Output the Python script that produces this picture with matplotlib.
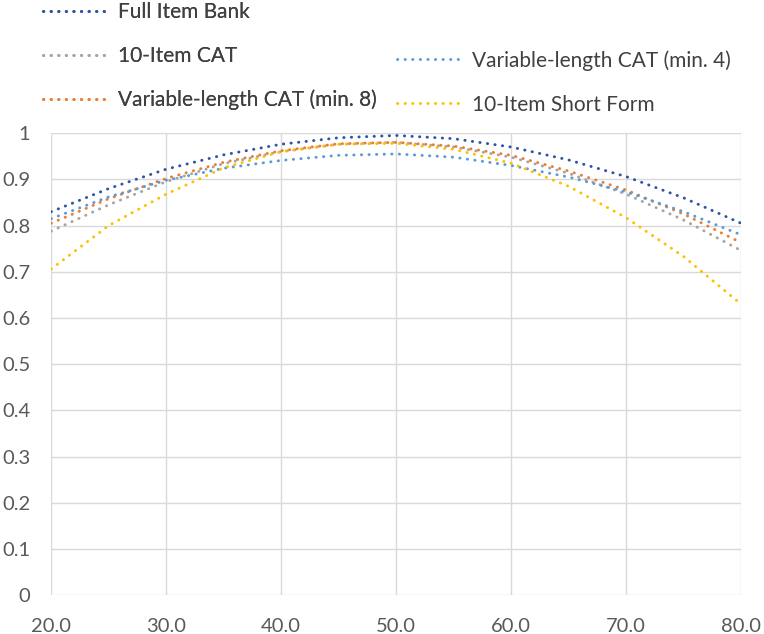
import matplotlib
matplotlib.use("Agg")
import matplotlib.pyplot as plt
from matplotlib.lines import Line2D

# x positions (theta scale) and reliability curves
x_vals = [20, 25, 30, 35, 40, 45, 50, 55, 60, 65, 70, 75, 80]

full_bank = [0.830, 0.880, 0.922, 0.953, 0.976, 0.990, 0.995, 0.988, 0.970, 0.942, 0.906, 0.860, 0.805]
cat_10 = [0.788, 0.845, 0.895, 0.934, 0.960, 0.976, 0.980, 0.970, 0.948, 0.913, 0.868, 0.812, 0.746]
var_min8 = [0.805, 0.858, 0.902, 0.937, 0.962, 0.977, 0.980, 0.972, 0.952, 0.918, 0.877, 0.825, 0.763]
var_min4 = [0.815, 0.862, 0.898, 0.924, 0.941, 0.952, 0.955, 0.948, 0.930, 0.905, 0.873, 0.830, 0.780]
short_form = [0.706, 0.800, 0.868, 0.925, 0.960, 0.976, 0.978, 0.965, 0.935, 0.885, 0.817, 0.733, 0.630]

labels = ["Full Item Bank", "10-Item CAT", "Variable-length CAT (min. 8)",
          "Variable-length CAT (min. 4)", "10-Item Short Form"]
colors = ["#2E54A6", "#A5A5A5", "#ED7D31", "#5B9BD5", "#FFC000"]
series = [full_bank, cat_10, var_min8, var_min4, short_form]

x_ticks = [20, 30, 40, 50, 60, 70, 80]
y_ticks = [0, 0.1, 0.2, 0.3, 0.4, 0.5, 0.6, 0.7, 0.8, 0.9, 1]

plt.rcParams['font.family'] = ['Lato', 'DejaVu Sans']

fig = plt.figure(figsize=(7.64, 6.34), dpi=100)
ax = fig.add_axes([0.067, 0.061, 0.903, 0.729])

dot_style = dict(linestyle=(0, (0.1, 2.5)), dash_capstyle='round', linewidth=2.1)

# draw order: grey/orange/blue/yellow first, full bank on top
order = [1, 2, 3, 4, 0]
for i in order:
    ax.plot(x_vals, series[i], color=colors[i], label=labels[i], **dot_style)

ax.set_xlim(20, 80)
ax.set_ylim(0, 1)
ax.set_xticks(x_ticks)
ax.set_xticklabels(["%.1f" % v for v in x_ticks])
ax.set_yticks(y_ticks)
ax.set_yticklabels(["0", "0.1", "0.2", "0.3", "0.4", "0.5", "0.6", "0.7", "0.8", "0.9", "1"])
ax.grid(True, color="#D9D9D9", linewidth=1)
ax.set_axisbelow(True)
for s in ax.spines.values():
    s.set_visible(False)
ax.tick_params(length=0, labelsize=14.5, colors="#595959")
ax.tick_params(axis='y', pad=15)
ax.tick_params(axis='x', pad=16)

#Legend: left column of three, right column of two
def handle(i):
    return Line2D([], [], color=colors[i], **dot_style)

leg_kw = dict(loc="upper left", frameon=False, fontsize=15, labelspacing=1.15,
              handlelength=3.0, handletextpad=0.58, borderpad=0, borderaxespad=0,
              labelcolor="#404040")
leg1 = fig.legend([handle(0), handle(1), handle(2)], labels[:3],
                  bbox_to_anchor=(0.0563, 0.997), **leg_kw)
leg2 = fig.legend([handle(3), handle(4)], labels[3:],
                  bbox_to_anchor=(0.5196, 0.921), **leg_kw)
fig.add_artist(leg1)

fig.savefig("out.png", dpi=100)
